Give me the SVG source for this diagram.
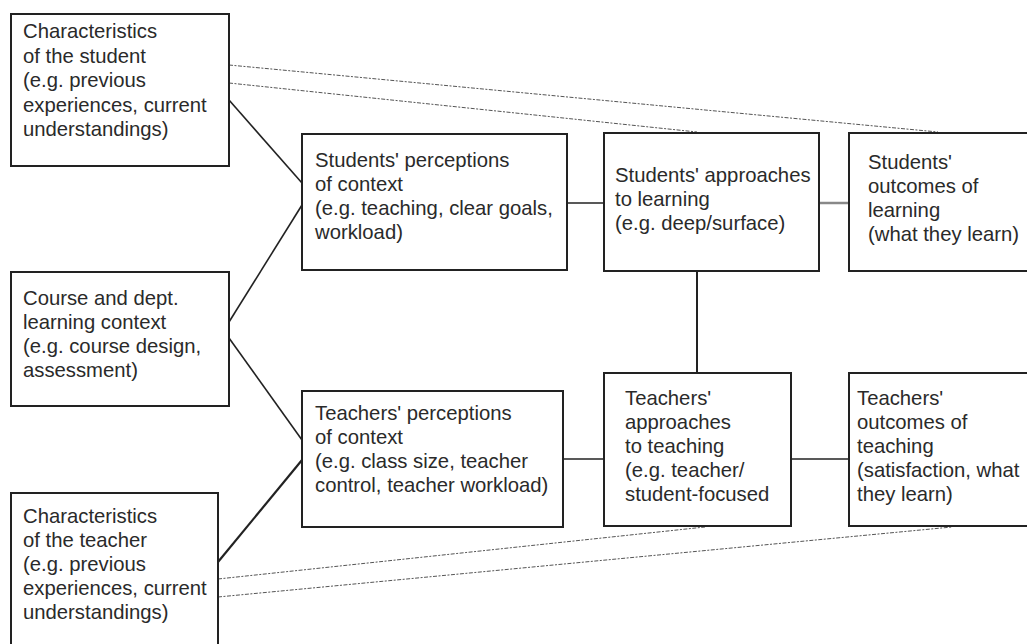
<svg xmlns="http://www.w3.org/2000/svg" width="1027" height="644" viewBox="0 0 1027 644">
<style>
.box{fill:#fff;stroke:#222;stroke-width:2}
.t{font-family:"Liberation Sans",Arial,sans-serif;font-size:20.3px;fill:#2a2a2a}
.c{stroke:#222;stroke-width:1.6;fill:none}
.d{stroke:#555;stroke-width:1;stroke-dasharray:4 1.5 2 1.5;fill:none}
</style>
<rect width="1027" height="644" fill="#fff"/>
<g id="connectors">
<line class="c" x1="229" y1="100" x2="302" y2="183"/>
<line class="c" x1="229" y1="322" x2="302" y2="205"/>
<line class="c" x1="229" y1="338" x2="302" y2="440"/>
<line class="c" x1="218" y1="562" x2="302" y2="460" style="stroke-width:2.2"/>
<line class="c" x1="567" y1="203" x2="604" y2="203"/>
<line class="c" x1="819" y1="203" x2="849" y2="203" style="stroke:#888;stroke-width:2.5"/>
<line class="c" x1="697" y1="271" x2="697" y2="373" style="stroke-width:2"/>
<line class="c" x1="563" y1="459" x2="604" y2="459"/>
<line class="c" x1="791" y1="459" x2="849" y2="459"/>
<line class="d" x1="229" y1="65" x2="938" y2="132"/>
<line class="d" x1="229" y1="83" x2="697" y2="132"/>
<line class="d" x1="218" y1="579" x2="705" y2="527"/>
<line class="d" x1="218" y1="597" x2="952" y2="527"/>
</g>
<g id="char-student">
<rect class="box" x="11" y="14" width="218" height="152"/>
<text class="t" x="23" y="38">Characteristics</text>
<text class="t" x="23" y="62.5">of the student</text>
<text class="t" x="23" y="87">(e.g. previous</text>
<text class="t" x="23" y="111.5">experiences, current</text>
<text class="t" x="23" y="136">understandings)</text>
</g>
<g id="course-context">
<rect class="box" x="11" y="272" width="218" height="134"/>
<text class="t" x="23" y="305">Course and dept.</text>
<text class="t" x="23" y="329">learning context</text>
<text class="t" x="23" y="353">(e.g. course design,</text>
<text class="t" x="23" y="377">assessment)</text>
</g>
<g id="char-teacher">
<rect class="box" x="11" y="493" width="207" height="160"/>
<text class="t" x="23" y="523">Characteristics</text>
<text class="t" x="23" y="547">of the teacher</text>
<text class="t" x="23" y="571">(e.g. previous</text>
<text class="t" x="23" y="595">experiences, current</text>
<text class="t" x="23" y="619">understandings)</text>
</g>
<g id="students-perceptions">
<rect class="box" x="302" y="134" width="265" height="136"/>
<text class="t" x="315" y="167">Students' perceptions</text>
<text class="t" x="315" y="191">of context</text>
<text class="t" x="315" y="215">(e.g. teaching, clear goals,</text>
<text class="t" x="315" y="239">workload)</text>
</g>
<g id="teachers-perceptions">
<rect class="box" x="302" y="391" width="261" height="136"/>
<text class="t" x="315" y="420">Teachers' perceptions</text>
<text class="t" x="315" y="444">of context</text>
<text class="t" x="315" y="468">(e.g. class size, teacher</text>
<text class="t" x="315" y="492">control, teacher workload)</text>
</g>
<g id="students-approaches">
<rect class="box" x="604" y="133" width="215" height="138"/>
<text class="t" x="615" y="182">Students' approaches</text>
<text class="t" x="615" y="206">to learning</text>
<text class="t" x="615" y="230">(e.g. deep/surface)</text>
</g>
<g id="students-outcomes">
<rect class="box" x="849" y="133" width="190" height="138"/>
<text class="t" x="868" y="169">Students'</text>
<text class="t" x="868" y="193">outcomes of</text>
<text class="t" x="868" y="217">learning</text>
<text class="t" x="868" y="241">(what they learn)</text>
</g>
<g id="teachers-approaches">
<rect class="box" x="604" y="373" width="187" height="153"/>
<text class="t" x="625" y="405">Teachers'</text>
<text class="t" x="625" y="429">approaches</text>
<text class="t" x="625" y="453">to teaching</text>
<text class="t" x="625" y="477">(e.g. teacher/</text>
<text class="t" x="625" y="501">student-focused</text>
</g>
<g id="teachers-outcomes">
<rect class="box" x="849" y="373" width="190" height="153"/>
<text class="t" x="857" y="405">Teachers'</text>
<text class="t" x="857" y="429">outcomes of</text>
<text class="t" x="857" y="453">teaching</text>
<text class="t" x="857" y="477">(satisfaction, what</text>
<text class="t" x="857" y="501">they learn)</text>
</g>
</svg>
